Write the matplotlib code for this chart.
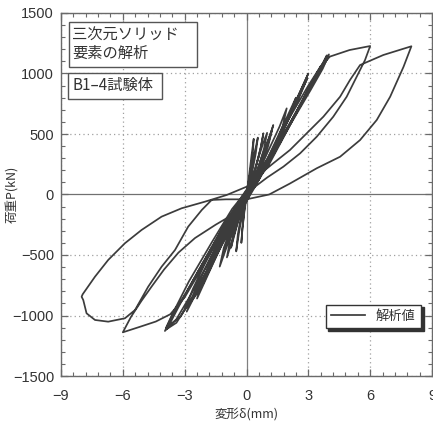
import numpy as np
import matplotlib.pyplot as plt
from matplotlib.patches import Rectangle

plt.rcParams['font.family'] = ['Noto Sans CJK JP', 'DejaVu Sans']

# small cycles (about 0.3 - 2 mm)
disp_small = [0.0, 0.1, 0.25, 0.35, 0.3, 0.15, 0.0, -0.1, -0.2, -0.25, -0.2, -0.1, 0.0,
              0.1, 0.3, 0.45, 0.55, 0.45, 0.25, 0.05, -0.15, -0.35, -0.5, -0.42, -0.25, -0.05,
              0.2, 0.5, 0.7, 0.82, 0.7, 0.4, 0.05, -0.25, -0.5, -0.75, -0.62, -0.35, -0.05,
              0.2, 0.5, 0.8, 1.0, 0.85, 0.5, 0.1, -0.3, -0.6, -0.95, -0.8, -0.45, -0.05,
              0.3, 0.7, 1.05, 1.25, 1.05, 0.6, 0.1, -0.4, -0.85, -1.3, -1.1, -0.65, -0.1,
              0.2, 0.6, 1.0, 1.3, 1.1, 0.7, 0.15, -0.3, -0.8, -1.1, -0.9, -0.5, 0.0,
              0.4, 1.0, 1.6, 1.95, 1.75, 1.2, 0.4, -0.4, -1.2, -1.7, -2.1, -1.85, -1.3, -0.5, 0.1]
load_small = [0, 120, 330, 460, 330, 150, 20, -120, -280, -400, -290, -140, -20,
              100, 280, 390, 470, 340, 160, 20, -120, -300, -470, -330, -160, -10,
              60, 250, 400, 506, 390, 200, 10, -120, -280, -440, -330, -170, 0,
              80, 260, 420, 510, 380, 180, 10, -150, -330, -520, -380, -190, 0,
              90, 290, 450, 540, 400, 190, 0, -170, -380, -596, -440, -230, -20,
              50, 220, 420, 574, 450, 260, 30, -140, -330, -480, -360, -180, 10,
              110, 340, 560, 712, 560, 330, 60, -170, -420, -590, -734, -590, -370, -110, 40]

# 2.5 / 3 mm cycles
disp_3mm = [0.5, 1.2, 2.1, 3.0, 2.6, 1.9, 1.0, 0.2, -0.5, -1.3, -2.1, -2.9, -2.5, -1.8, -1.0, -0.2,
            0.6, 1.5, 2.3, 2.95, 2.5, 1.7, 0.8, 0.0, -0.8, -1.6, -2.4, -3.0, -2.6, -1.9, -1.0, 0.0,
            0.3, 1.0, 1.8, 2.4, 2.1, 1.4, 0.6, -0.2, -0.9, -1.7, -2.4, -2.1, -1.5, -0.7, 0.0]
load_3mm = [90, 330, 660, 1000, 850, 590, 270, 30, -120, -400, -700, -968, -800, -540, -260, -30,
            130, 420, 720, 960, 780, 500, 200, -20, -260, -540, -820, -950, -780, -530, -240, 10,
            60, 290, 580, 800, 660, 400, 130, -60, -300, -600, -860, -700, -470, -190, 0]

# 4 mm cycles
disp_4mm = [0.6, 1.6, 2.6, 3.4, 4.0, 3.7, 3.1, 2.2, 1.2, 0.3, -0.6, -1.6, -2.6, -3.4, -3.96,
            -3.6, -2.9, -1.9, -0.9, 0.0,
            0.9, 1.9, 2.9, 3.6, 4.0, 3.5, 2.7, 1.7, 0.8, -0.1, -1.1, -2.2, -3.2, -3.9,
            -3.6, -2.8, -1.7, -0.7, 0.1,
            1.1, 2.2, 3.2, 3.9, 3.5, 2.6, 1.5, 0.5, -0.4, -1.4, -2.5, -3.4, -3.85,
            -3.3, -2.3, -1.2, -0.2]
load_4mm = [120, 420, 740, 1000, 1158, 1040, 860, 600, 300, 60, -200, -480, -800, -1030, -1128,
            -1000, -800, -500, -200, 20,
            200, 520, 840, 1060, 1140, 1000, 770, 470, 200, -50, -360, -720, -1010, -1100,
            -990, -720, -400, -120, 50,
            250, 600, 920, 1150, 1010, 730, 400, 110, -150, -470, -820, -1060, -1110,
            -930, -620, -290, -10]

# 6 mm cycle
disp_6mm = [1.0, 2.0, 3.0, 3.6, 4.05, 5.0, 6.0,
            5.75, 5.35, 4.86, 4.21, 3.41, 2.6, 1.79, 1.0, 0.3, -0.3, -1.0, -2.0, -3.0, -3.7,
            -4.4, -5.2, -6.0,
            -5.6, -5.1, -4.6, -4.0, -3.3, -2.5, -1.5, -0.4, 0.0]
load_6mm = [290, 610, 900, 1060, 1140, 1194, 1227,
            1111, 974, 808, 643, 478, 340, 230, 140, 50, -60, -250, -560, -850, -990,
            -1050, -1095, -1139,
            -1010, -880, -760, -620, -480, -360, -250, -140, -60]

# 8 mm cycle
disp_8mm = [0.5, 1.3, 2.11, 2.92, 3.73, 4.54, 5.02, 5.51, 6.64, 8.0,
            7.62, 6.97, 6.32, 5.51, 4.54, 3.41, 2.1, 1.1, 0.0, -1.0, -1.69, -2.17, -2.83, -3.47,
            -4.12, -4.77, -5.41, -5.9, -6.71, -7.35, -7.76, -7.92, -8.0, -7.95,
            -7.6, -7.35, -6.71, -5.9, -5.09, -4.12, -3.15, -2.01, -0.96, 0.0, 0.3]
load_8mm = [147, 258, 368, 506, 643, 808, 946, 1070, 1153, 1225,
            1056, 808, 616, 450, 312, 217, 90, 0, -40, -40, -45, -128, -266, -459,
            -597, -762, -955, -1023, -1051, -1037, -982, -872, -845, -825,
            -740, -679, -541, -403, -293, -183, -114, -59, -4, 64, 90]

x_ticks = [-9, -6, -3, 0, 3, 6, 9]
x_labels = ['\u22129', '\u22126', '\u22123', '0', '3', '6', '9']
y_ticks = [-1500, -1000, -500, 0, 500, 1000, 1500]
y_labels = ['\u22121500', '\u22121000', '\u2212500', '0', '500', '1000', '1500']

disp = np.concatenate([disp_small, disp_3mm, disp_4mm, disp_6mm, disp_8mm])
load = np.concatenate([load_small, load_3mm, load_4mm, load_6mm, load_8mm])

fig = plt.figure(figsize=(4.33, 4.23), dpi=100)
ax = fig.add_axes([61/433, 47/423, 371/433, 363/423])

line_col = '#3c3c3c'
frame_col = '#6a6a6a'

# grid: dotted at major ticks, solid through the origin
for xv in x_ticks:
    if xv == 0:
        ax.axvline(xv, color='#808080', lw=0.9, zorder=1)
    else:
        ax.axvline(xv, color='#a0a0a0', lw=0.9, ls=(0, (1, 2.5)), zorder=1)
for yv in y_ticks:
    if yv == 0:
        ax.axhline(yv, color='#707070', lw=0.9, zorder=1)
    else:
        ax.axhline(yv, color='#a0a0a0', lw=0.9, ls=(0, (1, 2.5)), zorder=1)

ax.plot(disp, load, color=line_col, lw=1.25, label='解析値', zorder=3)

ax.set_xlim(-9, 9)
ax.set_ylim(-1500, 1500)
ax.set_xticks(x_ticks)
ax.set_yticks(y_ticks)
ax.set_xticks(np.arange(-9, 9.01, 0.6), minor=True)
ax.set_yticks(np.arange(-1500, 1501, 100), minor=True)
num_font = ['Liberation Sans Narrow', 'Liberation Sans', 'DejaVu Sans']
ax.set_xticklabels(x_labels, fontfamily=num_font, fontsize=10.5, color='#333333')
ax.set_yticklabels(y_labels, fontfamily=num_font, fontsize=10.5, color='#333333')
ax.tick_params(which='both', direction='in', top=True, right=True, color=frame_col)
ax.tick_params(which='major', length=5, width=0.9)
ax.tick_params(which='minor', length=3, width=0.8)
ax.tick_params(axis='x', which='major', pad=9)
ax.tick_params(axis='y', which='major', pad=5)
for s in ax.spines.values():
    s.set_color(frame_col)
    s.set_linewidth(1.0)

ax.set_xlabel('変形δ(mm)', fontsize=9, color='#333333')
ax.set_ylabel('荷重P(kN)', fontsize=9, color='#333333')
ax.xaxis.set_label_coords(0.5, -0.09)
ax.yaxis.set_label_coords(-0.116, 0.5)

# text boxes in the upper left
ax.add_patch(Rectangle((0.0216, 0.851), 0.345, 0.124, transform=ax.transAxes,
                       fc='white', ec='#555555', lw=1.0, zorder=5))
ax.text(0.030, 0.962, '三次元ソリッド\n要素の解析', transform=ax.transAxes,
        ha='left', va='top', fontsize=11, linespacing=1.05, color='#333333', zorder=6)
ax.add_patch(Rectangle((0.0189, 0.763), 0.253, 0.072, transform=ax.transAxes,
                       fc='white', ec='#555555', lw=1.0, zorder=5))
ax.text(0.030, 0.800, 'B1\u20134試験体', transform=ax.transAxes,
        ha='left', va='center', fontsize=11, color='#333333', zorder=6)

leg = ax.legend(loc='lower right', bbox_to_anchor=(0.97, 0.132), fontsize=9.5,
                fancybox=False, shadow={'color': '#333333', 'alpha': 1.0},
                edgecolor='#333333', framealpha=1,
                handlelength=2.6, borderpad=0.4, borderaxespad=0)
leg.get_frame().set_linewidth(1.0)
for t in leg.get_texts():
    t.set_color('#333333')

fig.savefig('out.png', dpi=100)
